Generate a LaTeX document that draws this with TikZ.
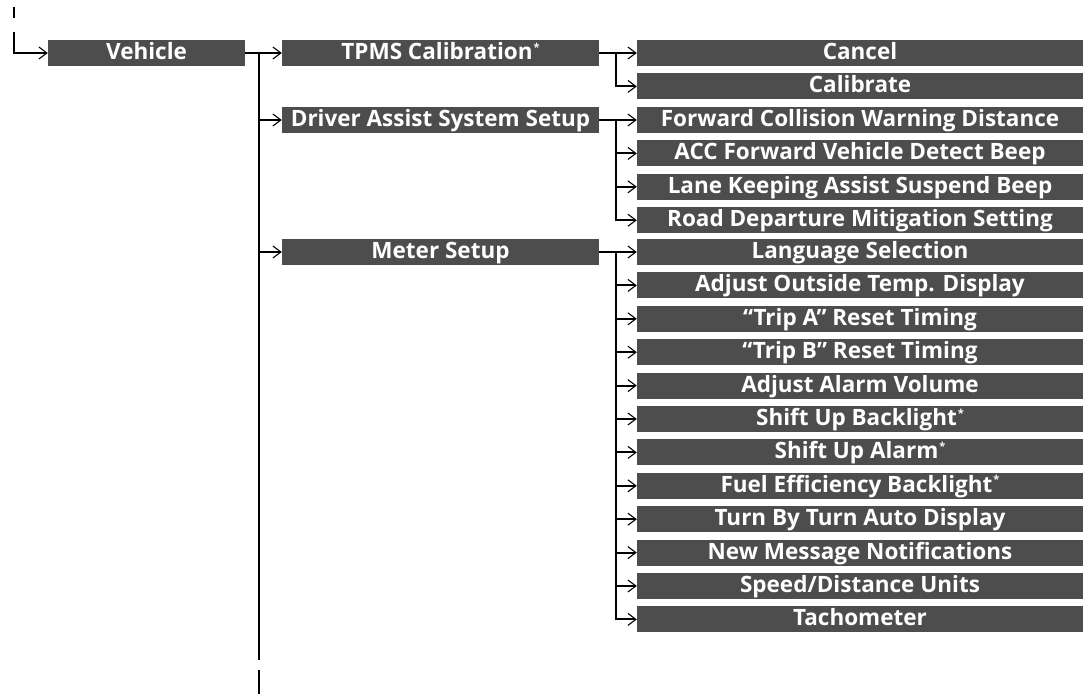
\documentclass[tikz,border=0pt]{standalone}
\usepackage{fontspec}
\setmainfont{Open Sans}
\usetikzlibrary{arrows.meta,positioning}
\definecolor{menugray}{RGB}{77,77,77}
\newcommand{\optmark}{\kern1pt\raisebox{8.5pt}{\fontsize{11}{11}\selectfont *}}

\begin{document}
\begin{tikzpicture}[x=1pt, y=-1pt,
  menubox/.style={rectangle, fill=menugray, text=white, inner sep=0pt,
                  minimum height=26pt, text height=16pt, text depth=3pt,
                  font=\fontsize{22.5}{26}\selectfont\bfseries},
  rootbox/.style={menubox, minimum width=197pt},
  groupbox/.style={menubox, minimum width=317pt},
  itembox/.style={menubox, minimum width=446pt},
  link/.style={draw, line width=2pt},
  arrowline/.style={link, -{Straight Barb[length=8pt, width=12pt, line width=1.1pt]}},
]
  \useasboundingbox (0,0) rectangle (1083,694);

  % ========= ROOT =========
  \node[rootbox] (vehicle) at (146.5,53) {Vehicle};
  \coordinate (prevtop) at (14,7);
  \coordinate (prevbot) at (14,18);
  \coordinate (entry) at (14,32);
  \draw[link] (prevtop) -- (prevbot);
  \draw[arrowline] (entry) |- (vehicle.west);

  % ========= GROUPS =========
  \node[groupbox] (tpms) at (440.5,53) {TPMS Calibration\optmark};
  \node[groupbox] (assist) at (440.5,120) {Driver Assist System Setup};
  \node[groupbox] (meter) at (440.5,252) {Meter Setup};

  % trunk from Vehicle
  \coordinate (trunkend) at (259,660);
  \coordinate (moretop) at (259,670);
  \coordinate (morebot) at (259,694);
  \draw[link] (vehicle.east) -- (trunkend |- vehicle.east) -- (trunkend);
  \draw[link] (moretop) -- (morebot);
  \draw[arrowline] (vehicle.east) -- (tpms.west);
  \draw[arrowline] (trunkend |- assist.west) -- (assist.west);
  \draw[arrowline] (trunkend |- meter.west) -- (meter.west);

  % ========= TPMS items =========
  \node[itembox] (cancel) at (860,53) {Cancel};
  \node[itembox, below=7pt of cancel] (calib) {Calibrate};

  % ========= Driver assist items =========
  \node[itembox] (a1) at (860,120) {Forward Collision Warning Distance};
  \node[itembox, below=7pt of a1] (a2) {ACC Forward Vehicle Detect Beep};
  \node[itembox, below=7pt of a2] (a3) {Lane Keeping Assist Suspend Beep};
  \node[itembox, below=7pt of a3] (a4) {Road Departure Mitigation Setting};

  % ========= Meter items =========
  \node[itembox] (m1) at (860,252) {Language Selection};
  \node[itembox, below=7pt of m1] (m2) {Adjust Outside Temp. Display};
  \node[itembox, below=7pt of m2] (m3) {“Trip A” Reset Timing};
  \node[itembox, below=7pt of m3] (m4) {“Trip B” Reset Timing};
  \node[itembox, below=7pt of m4] (m5) {Adjust Alarm Volume};
  \node[itembox, below=7pt of m5] (m6) {Shift Up Backlight\optmark};
  \node[itembox, below=7pt of m6] (m7) {Shift Up Alarm\optmark};
  \node[itembox, below=7pt of m7] (m8) {Fuel Efficiency Backlight\optmark};
  \node[itembox, below=7pt of m8] (m9) {Turn By Turn Auto Display};
  \node[itembox, below=7pt of m9] (m10) {New Message Notifications};
  \node[itembox, below=7pt of m10] (m11) {Speed/Distance Units};
  \node[itembox, below=7pt of m11] (m12) {Tachometer};

  % Edges to items
  \draw[arrowline] (tpms.east) -- (cancel.west);
  \draw[arrowline] (tpms.east) -- ++(17,0) |- (calib.west);
  \draw[arrowline] (assist.east) -- (a1.west);
  \foreach \i in {2,3,4} {
    \draw[arrowline] (assist.east) -- ++(17,0) |- (a\i.west);
  }
  \draw[arrowline] (meter.east) -- (m1.west);
  \foreach \i in {2,...,12} {
    \draw[arrowline] (meter.east) -- ++(17,0) |- (m\i.west);
  }
\end{tikzpicture}
\end{document}
